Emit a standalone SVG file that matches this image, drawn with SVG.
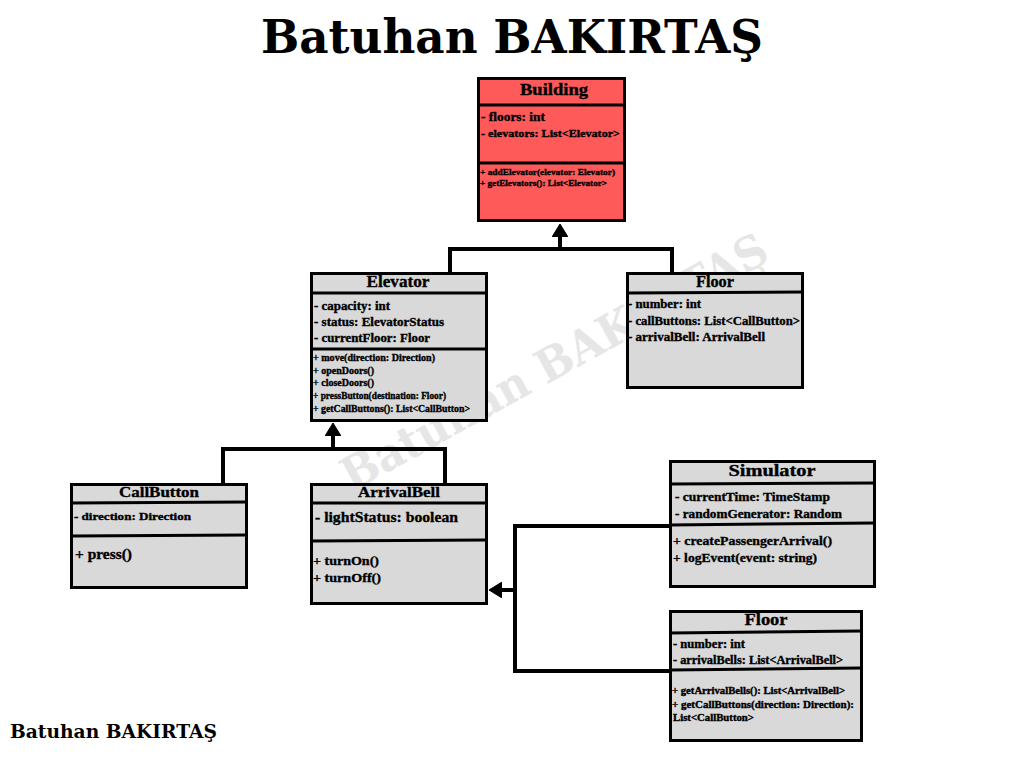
<svg xmlns="http://www.w3.org/2000/svg" width="1024" height="768" viewBox="0 0 1024 768">
<defs>
<style>
.box{fill:#d9d9d9;stroke:#000;stroke-width:3}
.red{fill:#ff5a5a}
.div{stroke:#000;stroke-width:3}
.t{font-family:"Liberation Serif","DejaVu Serif",serif;font-weight:bold;fill:#000;stroke:#000;stroke-width:0.35}
.h{text-anchor:middle}
.con{fill:none;stroke:#000;stroke-width:4}
</style>
<marker id="tri" viewBox="0 0 13 16" markerWidth="13" markerHeight="16" refX="1" refY="8" orient="auto" markerUnits="userSpaceOnUse">
<path d="M0,0 L13,8 L0,16 z" fill="#000" stroke="#000" stroke-width="1" stroke-linejoin="round"/>
</marker>
</defs>
<rect width="1024" height="768" fill="#fff"/>
<text x="512" y="53" text-anchor="middle" font-family="DejaVu Serif, serif" font-weight="bold" font-size="47" textLength="502" lengthAdjust="spacingAndGlyphs">Batuhan BAKIRTAŞ</text>
<text x="10" y="738" font-family="DejaVu Serif, serif" font-weight="bold" font-size="18" textLength="207" lengthAdjust="spacingAndGlyphs">Batuhan BAKIRTAŞ</text>
<text x="0" y="0" transform="translate(562,376) rotate(-29)" text-anchor="middle" font-family="DejaVu Serif, serif" font-weight="bold" font-size="46" fill="#e6e6e6" textLength="480" lengthAdjust="spacingAndGlyphs">Batuhan BAKIRTAŞ</text>

<g id="connectors">
<path class="con" d="M560,249 V236" marker-end="url(#tri)"/>
<path class="con" d="M450,273 V249 H672 V273"/>
<path class="con" d="M333,449 V435" marker-end="url(#tri)"/>
<path class="con" d="M223,484 V449 H445 V484"/>
<path class="con" d="M670,526 H515 V671 H670"/>
<path class="con" d="M515,590 H501" marker-end="url(#tri)"/>
</g>

<g id="building">
<rect class="box red" x="478.5" y="78.5" width="146" height="142"/>
<line class="div" x1="478" y1="105" x2="625" y2="105"/>
<line class="div" x1="478" y1="163" x2="625" y2="163"/>
<text class="t h" x="554" y="95" font-size="17" textLength="68" lengthAdjust="spacingAndGlyphs">Building</text>
<text class="t" x="481" y="121" font-size="13" textLength="64" lengthAdjust="spacingAndGlyphs">- floors: int</text>
<text class="t" x="481" y="137" font-size="11" textLength="139" lengthAdjust="spacingAndGlyphs">- elevators: List&lt;Elevator&gt;</text>
<text class="t" x="480" y="175" font-size="9" textLength="135" lengthAdjust="spacingAndGlyphs">+ addElevator(elevator: Elevator)</text>
<text class="t" x="480" y="186" font-size="9" textLength="127" lengthAdjust="spacingAndGlyphs">+ getElevators(): List&lt;Elevator&gt;</text>
</g>

<g id="elevator">
<rect class="box" x="311.5" y="273.5" width="175" height="147"/>
<line class="div" x1="311" y1="293" x2="487" y2="293"/>
<line class="div" x1="311" y1="349" x2="487" y2="349"/>
<text class="t h" x="398" y="287" font-size="16" textLength="63" lengthAdjust="spacingAndGlyphs">Elevator</text>
<text class="t" x="314" y="310" font-size="12" textLength="76" lengthAdjust="spacingAndGlyphs">- capacity: int</text>
<text class="t" x="314" y="326" font-size="12" textLength="130" lengthAdjust="spacingAndGlyphs">- status: ElevatorStatus</text>
<text class="t" x="314" y="342" font-size="12" textLength="116" lengthAdjust="spacingAndGlyphs">- currentFloor: Floor</text>
<text class="t" x="313" y="361" font-size="9.5" textLength="122" lengthAdjust="spacingAndGlyphs">+ move(direction: Direction)</text>
<text class="t" x="313" y="374" font-size="9.5" textLength="61" lengthAdjust="spacingAndGlyphs">+ openDoors()</text>
<text class="t" x="313" y="386" font-size="9.5" textLength="61" lengthAdjust="spacingAndGlyphs">+ closeDoors()</text>
<text class="t" x="313" y="399" font-size="9.5" textLength="133" lengthAdjust="spacingAndGlyphs">+ pressButton(destination: Floor)</text>
<text class="t" x="313" y="412" font-size="9.5" textLength="157" lengthAdjust="spacingAndGlyphs">+ getCallButtons(): List&lt;CallButton&gt;</text>
</g>

<g id="floor-top">
<rect class="box" x="627.5" y="273.5" width="175" height="114"/>
<line class="div" x1="627" y1="293" x2="803" y2="292"/>
<text class="t h" x="715" y="287" font-size="16" textLength="38" lengthAdjust="spacingAndGlyphs">Floor</text>
<text class="t" x="628" y="308" font-size="12" textLength="73" lengthAdjust="spacingAndGlyphs">- number: int</text>
<text class="t" x="628" y="325" font-size="12" textLength="172" lengthAdjust="spacingAndGlyphs">- callButtons: List&lt;CallButton&gt;</text>
<text class="t" x="628" y="341" font-size="12" textLength="137" lengthAdjust="spacingAndGlyphs">- arrivalBell: ArrivalBell</text>
</g>

<g id="callbutton">
<rect class="box" x="71.5" y="484.5" width="175" height="103"/>
<line class="div" x1="71" y1="503" x2="247" y2="502"/>
<line class="div" x1="71" y1="536" x2="247" y2="535"/>
<text class="t h" x="159" y="497" font-size="15" textLength="80" lengthAdjust="spacingAndGlyphs">CallButton</text>
<text class="t" x="74" y="520" font-size="11" textLength="117" lengthAdjust="spacingAndGlyphs">- direction: Direction</text>
<text class="t" x="75" y="559" font-size="14" textLength="57" lengthAdjust="spacingAndGlyphs">+ press()</text>
</g>

<g id="arrivalbell">
<rect class="box" x="311.5" y="484.5" width="175" height="119"/>
<line class="div" x1="311" y1="503" x2="487" y2="503"/>
<line class="div" x1="311" y1="541" x2="487" y2="540"/>
<text class="t h" x="399" y="497" font-size="15" textLength="82" lengthAdjust="spacingAndGlyphs">ArrivalBell</text>
<text class="t" x="315" y="522" font-size="15" textLength="143" lengthAdjust="spacingAndGlyphs">- lightStatus: boolean</text>
<text class="t" x="313" y="565" font-size="13" textLength="66" lengthAdjust="spacingAndGlyphs">+ turnOn()</text>
<text class="t" x="313" y="582" font-size="13" textLength="68" lengthAdjust="spacingAndGlyphs">+ turnOff()</text>
</g>

<g id="simulator">
<rect class="box" x="670.5" y="461.5" width="204" height="125"/>
<line class="div" x1="670" y1="484" x2="875" y2="483"/>
<line class="div" x1="670" y1="525" x2="875" y2="523"/>
<text class="t h" x="772" y="476" font-size="17" textLength="87" lengthAdjust="spacingAndGlyphs">Simulator</text>
<text class="t" x="675" y="501" font-size="12" textLength="155" lengthAdjust="spacingAndGlyphs">- currentTime: TimeStamp</text>
<text class="t" x="675" y="518" font-size="12" textLength="167" lengthAdjust="spacingAndGlyphs">- randomGenerator: Random</text>
<text class="t" x="673" y="545" font-size="13" textLength="159" lengthAdjust="spacingAndGlyphs">+ createPassengerArrival()</text>
<text class="t" x="673" y="562" font-size="13" textLength="144" lengthAdjust="spacingAndGlyphs">+ logEvent(event: string)</text>
</g>

<g id="floor-bottom">
<rect class="box" x="670.5" y="611.5" width="191" height="129"/>
<line class="div" x1="670" y1="633" x2="862" y2="631"/>
<line class="div" x1="670" y1="670" x2="862" y2="668"/>
<text class="t h" x="766" y="625" font-size="17" textLength="43" lengthAdjust="spacingAndGlyphs">Floor</text>
<text class="t" x="673" y="648" font-size="11.5" textLength="72" lengthAdjust="spacingAndGlyphs">- number: int</text>
<text class="t" x="673" y="664" font-size="11.5" textLength="170" lengthAdjust="spacingAndGlyphs">- arrivalBells: List&lt;ArrivalBell&gt;</text>
<text class="t" x="672" y="694" font-size="9.5" textLength="173" lengthAdjust="spacingAndGlyphs">+ getArrivalBells(): List&lt;ArrivalBell&gt;</text>
<text class="t" x="672" y="708" font-size="9.5" textLength="182" lengthAdjust="spacingAndGlyphs">+ getCallButtons(direction: Direction):</text>
<text class="t" x="673" y="721" font-size="9.5" textLength="81" lengthAdjust="spacingAndGlyphs">List&lt;CallButton&gt;</text>
</g>
</svg>
